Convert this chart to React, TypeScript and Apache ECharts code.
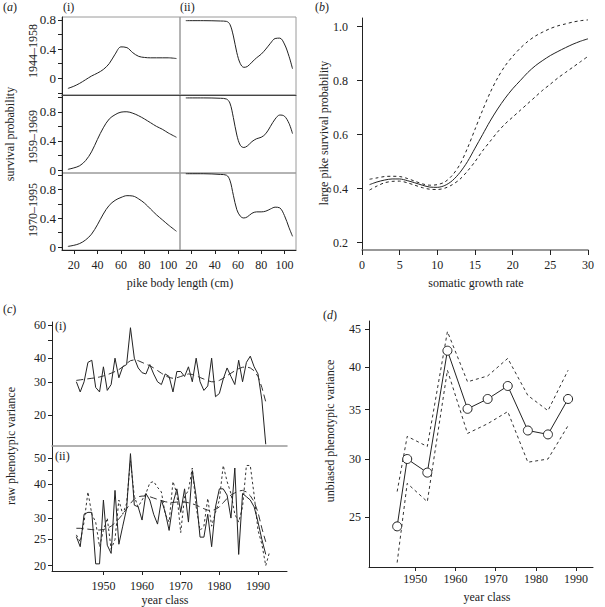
import React, { useEffect, useRef } from "react";
import * as echarts from "echarts";

const FONT = '"Liberation Serif", "Times New Roman", serif';
const INK = "#222";

// Panel (a)
const aLenLeft = [15, 20, 25, 30, 35, 40, 45, 50, 55, 60, 65, 70, 75, 80, 85, 90, 95, 100, 107];
const aRow1Left = [-0.14, -0.11, -0.07, -0.02, 0.03, 0.07, 0.12, 0.2, 0.33, 0.43, 0.42, 0.35, 0.3, 0.285, 0.28, 0.28, 0.28, 0.28, 0.27];
const aRow2Left = [0.01, 0.03, 0.06, 0.13, 0.25, 0.42, 0.58, 0.7, 0.76, 0.795, 0.8, 0.78, 0.745, 0.7, 0.65, 0.6, 0.56, 0.51, 0.45];
const aRow3Left = [0.01, 0.025, 0.05, 0.1, 0.18, 0.31, 0.46, 0.58, 0.65, 0.69, 0.715, 0.71, 0.67, 0.61, 0.53, 0.45, 0.38, 0.31, 0.22];
const aLenRight = [15, 30, 45, 50, 53, 56, 59, 62, 65, 68, 72, 76, 80, 84, 88, 92, 96, 100, 104, 107];
const aRow1Right = [0.79, 0.79, 0.785, 0.78, 0.74, 0.58, 0.35, 0.2, 0.15, 0.16, 0.22, 0.28, 0.33, 0.4, 0.48, 0.545, 0.55, 0.47, 0.3, 0.13];
const aRow2Right = [0.99, 0.99, 0.985, 0.975, 0.92, 0.72, 0.48, 0.34, 0.31, 0.33, 0.39, 0.43, 0.45, 0.5, 0.6, 0.7, 0.755, 0.74, 0.64, 0.5];
const aRow3Right = [1.02, 1.02, 1.01, 1.0, 0.93, 0.72, 0.52, 0.43, 0.405, 0.42, 0.47, 0.49, 0.49, 0.5, 0.53, 0.555, 0.545, 0.44, 0.27, 0.15];
const aXTicks = [20, 40, 60, 80, 100];
const aYTicksTop = [-0.2, 0, 0.2, 0.4, 0.6, 0.8];
const aYTicks = [0, 0.2, 0.4, 0.6, 0.8, 1.0];
const aYLabels = [0, 0.4, 0.8];
const aRowNames = ["1944\u20131958", "1959\u20131969", "1970\u20131995"];

// Panel (b)
const bRate = [1, 2, 3, 4, 5, 6, 7, 8, 9, 10, 11, 12, 13, 14, 15, 16, 17, 18, 19, 20, 21, 22, 23, 24, 25, 26, 27, 28, 29, 30];
const bMean = [0.415, 0.425, 0.432, 0.436, 0.436, 0.43, 0.422, 0.413, 0.406, 0.405, 0.412, 0.43, 0.46, 0.5, 0.55, 0.6, 0.65, 0.695, 0.735, 0.77, 0.8, 0.83, 0.855, 0.875, 0.893, 0.908, 0.922, 0.935, 0.946, 0.955];
const bUpper = [0.435, 0.44, 0.445, 0.446, 0.445, 0.438, 0.428, 0.418, 0.413, 0.415, 0.425, 0.45, 0.49, 0.55, 0.62, 0.69, 0.755, 0.81, 0.855, 0.89, 0.92, 0.945, 0.965, 0.98, 0.993, 1.003, 1.01, 1.017, 1.022, 1.025];
const bLower = [0.395, 0.41, 0.422, 0.427, 0.428, 0.422, 0.413, 0.404, 0.398, 0.397, 0.402, 0.415, 0.435, 0.465, 0.5, 0.54, 0.575, 0.61, 0.64, 0.665, 0.69, 0.715, 0.74, 0.765, 0.787, 0.81, 0.83, 0.85, 0.87, 0.89];
const bXTicks = [0, 5, 10, 15, 20, 25, 30];
const bYTicks = [0.2, 0.4, 0.6, 0.8, 1.0];

// Panel (c)
const cYears = [1943, 1944, 1945, 1946, 1947, 1948, 1949, 1950, 1951, 1952, 1953, 1954, 1955, 1956, 1957, 1958, 1959, 1960, 1961, 1962, 1963, 1964, 1965, 1966, 1967, 1968, 1969, 1970, 1971, 1972, 1973, 1974, 1975, 1976, 1977, 1978, 1979, 1980, 1981, 1982, 1983, 1984, 1985, 1986, 1987, 1988, 1989, 1990, 1991, 1992];
const cYearsLong = [...cYears, 1993];
const cRawI = [30, 26.5, 30, 38, 39, 28, 26.5, 36, 27, 29, 40, 31.5, 36, 37, 58, 40, 35.5, 33.5, 33, 37, 33, 30, 29, 33, 32, 26.5, 34, 34, 32, 36, 30, 40, 30, 27, 28.5, 40, 25, 26, 31, 35.5, 32, 29, 39, 30, 38, 41, 36, 33, 24, 14];
const cSmoothI = [30.5, 30.7, 30.9, 31.1, 31.3, 31.5, 31.8, 32.2, 32.7, 33.3, 34.0, 34.8, 36.0, 37.5, 38.8, 39.2, 38.8, 38.0, 37.2, 36.5, 35.5, 34.4, 33.3, 32.3, 31.6, 31.3, 31.5, 32.0, 32.5, 33.0, 32.8, 32.3, 31.6, 31.0, 30.4, 30.0, 30.0, 30.5, 31.3, 32.3, 33.3, 34.3, 35.2, 35.8, 36.0, 35.5, 34.3, 32.0, 28.0, 23.5];
const cRawII = [25.6, 23.5, 31, 31.5, 31.5, 20.3, 20.3, 35, 23.8, 22.2, 38, 24, 28, 32.5, 52, 33.5, 33, 29.5, 37, 35, 31, 28.5, 35, 31.5, 27, 34, 38.5, 31.5, 38.5, 29, 45, 36, 25.5, 25.5, 31, 23.5, 33, 38.5, 38.5, 36.5, 30, 46, 22, 37, 36, 35, 33, 29, 25, 22];
const cSmoothII = [27.5, 27.5, 27.4, 27.3, 27.2, 27.1, 27.1, 27.2, 27.5, 28.0, 28.8, 29.8, 31.0, 32.5, 34.0, 35.3, 36.0, 36.2, 36.2, 36.0, 35.6, 35.2, 34.8, 34.5, 34.3, 34.3, 34.4, 34.5, 34.4, 34.2, 33.9, 33.5, 33.0, 32.5, 32.1, 32.0, 32.3, 33.0, 34.2, 35.5, 36.5, 37.2, 37.8, 38.0, 37.5, 36.3, 34.5, 31.5, 27.5, 24.5];
const cAltII = [26, 24.5, 29, 37.5, 31, 29, 23.5, 27, 30, 23, 25, 35, 31, 34, 49, 36, 33, 35, 37, 40.5, 41, 39, 37.5, 31, 29, 41, 37, 26.5, 36, 38, 46, 33, 27, 28, 35.5, 28, 31.5, 35, 47, 41, 37, 31, 29, 33, 47, 47, 36.5, 27, 24, 20, 22.5];
const cXTicks = [1950, 1960, 1970, 1980, 1990];
const cITicks = [20, 30, 40, 50, 60];
const cILabels = [20, 30, 40, 60];
const cIITicks = [20, 25, 30, 35, 40, 45, 50];
const cIILabels = [20, 25, 30, 40, 50];

// Panel (d)
const dYears = [1945.5, 1948, 1953, 1958, 1963, 1968, 1973, 1978, 1983, 1988];
const dVar = [24.3, 30.0, 28.75, 42.1, 35.1, 36.2, 37.7, 32.8, 32.4, 36.2];
const dUpper = [27.1, 32.2, 31.2, 44.7, 38.2, 38.9, 41.1, 36.6, 34.9, 39.6];
const dLower = [21.7, 27.8, 26.25, 39.6, 32.5, 33.5, 34.8, 29.7, 30.0, 33.3];
const dXTicks = [1950, 1960, 1970, 1980, 1990];
const dYTicks = [25, 30, 35, 40, 45];

const ln = Math.log;
const pairs = (xs: number[], ys: number[]) => ys.map((y, i) => [xs[i], y]);
const logPairs = (xs: number[], ys: number[]) => ys.map((y, i) => [xs[i], ln(y)]);

const labelStyle = { fontFamily: FONT, fontSize: 12, color: INK };
const plain = (v: number) => String(Math.round(v));

function buildOption() {
  const grids: any[] = [];
  const xAxes: any[] = [];
  const yAxes: any[] = [];
  const series: any[] = [];

  // Panel a grids
  const rowTops = [17, 95, 173];
  const rowH = [78, 78, 77];
  const leftData = [aRow1Left, aRow2Left, aRow3Left];
  const rightData = [aRow1Right, aRow2Right, aRow3Right];
  for (let r = 0; r < 3; r++) {
    for (let c = 0; c < 2; c++) {
      const gi = grids.length;
      grids.push({
        left: c === 0 ? 62 : 180,
        top: rowTops[r],
        width: c === 0 ? 118 : 116,
        height: rowH[r],
        show: true,
        borderColor: "#9a9a9a",
        borderWidth: 1,
        containLabel: false,
        outerBoundsMode: "none",
      });
      const bottom = r === 2;
      xAxes.push({
        gridIndex: gi,
        type: "value",
        min: 10,
        max: 110,
        axisLine: { show: bottom || r === 0, onZero: false, lineStyle: { color: bottom ? INK : "#444", width: 1 } },
        axisTick: { show: bottom, customValues: aXTicks, length: 4, lineStyle: { color: INK } },
        axisLabel: { show: bottom, customValues: aXTicks, margin: 9, formatter: plain, ...labelStyle },
        splitLine: { show: false },
      });
      yAxes.push({
        gridIndex: gi,
        type: "value",
        min: r === 0 ? -0.23 : -0.04,
        max: r === 0 ? 0.84 : 1.03,
        show: c === 0,
        axisLine: { show: true, onZero: false, lineStyle: { color: INK, width: 1 } },
        axisTick: { show: true, customValues: r === 0 ? aYTicksTop : aYTicks, length: 4, lineStyle: { color: INK } },
        axisLabel: {
          show: true,
          customValues: aYLabels,
          margin: 6,
          formatter: (v: number) => (Math.abs(v) < 1e-9 ? "0" : v.toFixed(1)),
          ...labelStyle,
          fontSize: 13,
        },
        splitLine: { show: false },
      });
      series.push({
        type: "line",
        xAxisIndex: gi,
        yAxisIndex: gi,
        data: c === 0 ? pairs(aLenLeft, leftData[r]) : pairs(aLenRight, rightData[r]),
        smooth: 0.35,
        showSymbol: false,
        lineStyle: { color: INK, width: 1 },
        silent: true,
      });
    }
  }

  // Panel b
  const gb = grids.length;
  grids.push({ left: 362, top: 18, width: 226, height: 232, containLabel: false, outerBoundsMode: "none" });
  xAxes.push({
    gridIndex: gb,
    type: "value",
    min: 0,
    max: 30,
    axisLine: { show: true, onZero: false, lineStyle: { color: "#777", width: 1.5 } },
    axisTick: { show: true, customValues: bXTicks, length: 5, lineStyle: { color: INK } },
    axisLabel: { show: true, customValues: bXTicks, margin: 9, formatter: plain, ...labelStyle },
    splitLine: { show: false },
  });
  yAxes.push({
    gridIndex: gb,
    type: "value",
    min: 0.173,
    max: 1.032,
    axisLine: { show: true, onZero: false, lineStyle: { color: INK, width: 1 } },
    axisTick: { show: true, customValues: bYTicks, length: 5, lineStyle: { color: INK } },
    axisLabel: { show: true, customValues: bYTicks, margin: 14, formatter: (v: number) => v.toFixed(1), ...labelStyle },
    splitLine: { show: false },
  });
  const bSeries = [
    { d: bMean, type: "solid" as any },
    { d: bUpper, type: [3, 3] },
    { d: bLower, type: [3, 3] },
  ];
  bSeries.forEach((s) =>
    series.push({
      type: "line",
      xAxisIndex: gb,
      yAxisIndex: gb,
      data: pairs(bRate, s.d),
      smooth: 0.3,
      showSymbol: false,
      lineStyle: { color: INK, width: 1, type: s.type },
      silent: true,
    })
  );

  // Panel c
  const gc1 = grids.length;
  grids.push({ left: 52, top: 322, width: 235, height: 124, containLabel: false, outerBoundsMode: "none" });
  const gc2 = grids.length;
  grids.push({ left: 52, top: 446, width: 235, height: 125, containLabel: false, outerBoundsMode: "none" });
  xAxes.push({
    gridIndex: gc1,
    type: "value",
    min: 1936.7,
    max: 1997.5,
    axisLine: { show: true, onZero: false, lineStyle: { color: "#999", width: 1.5 } },
    axisTick: { show: false },
    axisLabel: { show: false },
    splitLine: { show: false },
  });
  xAxes.push({
    gridIndex: gc2,
    type: "value",
    min: 1936.7,
    max: 1997.5,
    axisLine: { show: true, onZero: false, lineStyle: { color: INK, width: 1 } },
    axisTick: { show: true, customValues: cXTicks, length: 4, lineStyle: { color: INK } },
    axisLabel: { show: true, customValues: cXTicks, margin: 9, formatter: plain, ...labelStyle },
    splitLine: { show: false },
  });
  const logFmt = (v: number) => String(Math.round(Math.exp(v)));
  yAxes.push({
    gridIndex: gc1,
    type: "value",
    min: ln(13.7),
    max: ln(62.2),
    axisLine: { show: true, onZero: false, lineStyle: { color: INK, width: 1 } },
    axisTick: { show: true, customValues: cITicks.map(ln), length: 4, lineStyle: { color: INK } },
    axisLabel: { show: true, customValues: cILabels.map(ln), margin: 6, formatter: logFmt, ...labelStyle },
    splitLine: { show: false },
  });
  yAxes.push({
    gridIndex: gc2,
    type: "value",
    min: ln(19.1),
    max: ln(55.5),
    axisLine: { show: true, onZero: false, lineStyle: { color: INK, width: 1 } },
    axisTick: { show: true, customValues: cIITicks.map(ln), length: 4, lineStyle: { color: INK } },
    axisLabel: { show: true, customValues: cIILabels.map(ln), margin: 6, formatter: logFmt, ...labelStyle },
    splitLine: { show: false },
  });
  const cLines = [
    { g: gc1, xs: cYears, d: cRawI, type: "solid" as any, color: INK },
    { g: gc1, xs: cYears, d: cSmoothI, type: [7, 4], color: "#333" },
    { g: gc2, xs: cYearsLong, d: cAltII, type: [2.5, 2.5], color: "#333" },
    { g: gc2, xs: cYears, d: cSmoothII, type: [7, 4], color: "#333" },
    { g: gc2, xs: cYears, d: cRawII, type: "solid" as any, color: INK },
  ];
  cLines.forEach((s) =>
    series.push({
      type: "line",
      xAxisIndex: s.g,
      yAxisIndex: s.g,
      data: logPairs(s.xs, s.d),
      showSymbol: false,
      lineStyle: { color: s.color, width: 1, type: s.type },
      silent: true,
    })
  );

  // Panel d
  const gd = grids.length;
  grids.push({ left: 369, top: 321, width: 224, height: 246, containLabel: false, outerBoundsMode: "none" });
  xAxes.push({
    gridIndex: gd,
    type: "value",
    min: 1938.5,
    max: 1994.2,
    axisLine: { show: true, onZero: false, lineStyle: { color: INK, width: 1 } },
    axisTick: { show: true, customValues: dXTicks, length: 4, lineStyle: { color: INK } },
    axisLabel: { show: true, customValues: dXTicks, margin: 6, formatter: plain, ...labelStyle },
    splitLine: { show: false },
  });
  yAxes.push({
    gridIndex: gd,
    type: "value",
    min: ln(21.4),
    max: ln(46.2),
    axisLine: { show: true, onZero: false, lineStyle: { color: INK, width: 1 } },
    axisTick: { show: true, customValues: dYTicks.map(ln), length: 4, lineStyle: { color: INK } },
    axisLabel: { show: true, customValues: dYTicks.map(ln), margin: 8, formatter: logFmt, ...labelStyle },
    splitLine: { show: false },
  });
  [dUpper, dLower].forEach((d) =>
    series.push({
      type: "line",
      xAxisIndex: gd,
      yAxisIndex: gd,
      data: logPairs(dYears, d),
      showSymbol: false,
      lineStyle: { color: "#333", width: 1, type: [3, 3] },
      silent: true,
    })
  );
  series.push({
    type: "line",
    xAxisIndex: gd,
    yAxisIndex: gd,
    data: logPairs(dYears, dVar),
    showSymbol: true,
    symbol: "circle",
    symbolSize: 9,
    itemStyle: { color: "#fff", borderColor: INK, borderWidth: 1 },
    lineStyle: { color: INK, width: 1 },
    silent: true,
  });

  const text = (t: string, x: number, y: number, extra: any = {}) => ({
    type: "text",
    x,
    y,
    rotation: extra.rotation || 0,
    silent: true,
    style: {
      text: t,
      fontFamily: FONT,
      fontSize: extra.fontSize || 12,
      fill: INK,
      align: extra.align || "center",
      verticalAlign: "middle",
      rich: { i: { fontStyle: "italic", fontFamily: FONT, fontSize: extra.fontSize || 12, fill: INK } },
    },
  });
  const up = Math.PI / 2;
  const graphic = [
    text("({i|a})", 3, 7, { align: "left" }),
    text("(i)", 63, 7, { align: "left" }),
    text("(ii)", 180, 7, { align: "left" }),
    text("survival probability", 10, 134, { rotation: up }),
    text(aRowNames[0], 33, 51, { rotation: up }),
    text(aRowNames[1], 33, 137, { rotation: up }),
    text(aRowNames[2], 33, 210, { rotation: up }),
    text("pike body length (cm)", 180, 283),
    text("({i|b})", 315, 7, { align: "left" }),
    text("large pike survival probability", 324, 133, { rotation: up }),
    text("somatic growth rate", 476, 283),
    text("({i|c})", 3, 309, { align: "left" }),
    text("(i)", 55, 326, { align: "left" }),
    text("(ii)", 55, 456, { align: "left" }),
    text("raw phenotypic variance", 11, 446, { rotation: up }),
    text("year class", 165, 600),
    text("({i|d})", 323, 315, { align: "left" }),
    text("unbiased phenotypic variance", 330, 431, { rotation: up }),
    text("year class", 487, 597),
  ];

  return {
    animation: false,
    backgroundColor: "#fff",
    grid: grids,
    xAxis: xAxes,
    yAxis: yAxes,
    series,
    graphic,
  };
}

export default function App() {
  const ref = useRef<HTMLDivElement>(null);
  useEffect(() => {
    document.body.style.margin = "0";
    if (!ref.current) return;
    const chart = echarts.init(ref.current, undefined, { renderer: "svg", width: 605, height: 607 });
    chart.setOption(buildOption() as any);
    return () => chart.dispose();
  }, []);
  return <div ref={ref} style={{ width: 605, height: 607 }} />;
}
